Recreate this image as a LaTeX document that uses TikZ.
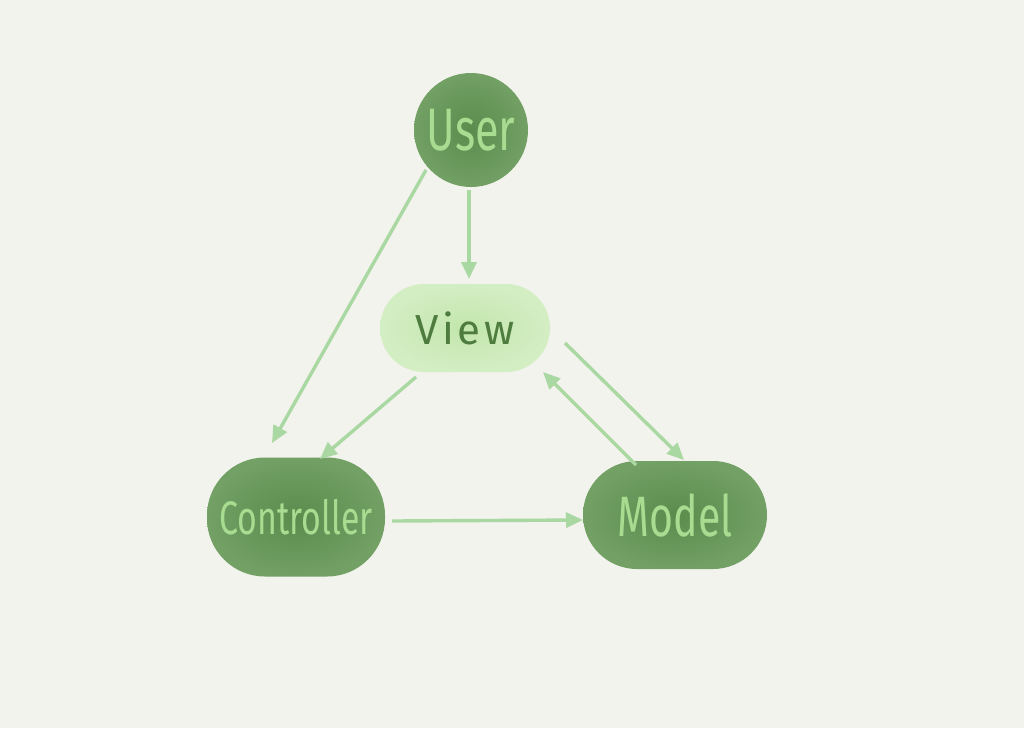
\documentclass[tikz,border=0pt]{standalone}
\usepackage{fontspec}
\newfontfamily\hand[FakeStretch=0.72]{Fira Sans}
\newfontfamily\handwide[LetterSpace=8]{Fira Sans}
\usetikzlibrary{arrows.meta}
\definecolor{bg}{HTML}{F2F3EC}
\definecolor{dkgreen}{HTML}{5B8C4D}
\definecolor{dkedge}{HTML}{72A065}
\definecolor{ltext}{HTML}{A8DC90}
\definecolor{viewfill}{HTML}{C2E6AC}
\definecolor{viewedge}{HTML}{D4EEC4}
\definecolor{viewtext}{HTML}{4E7C3E}
\definecolor{arrowc}{HTML}{AAD8A2}
\begin{document}
\begin{tikzpicture}[x=1pt,y=-1pt,
  darknode/.style={inner color=dkgreen, outer color=dkedge, text=ltext, inner sep=0pt},
  lightnode/.style={inner color=viewfill, outer color=viewedge, text=viewtext, inner sep=0pt},
  conn/.style={draw=arrowc, line width=3.4pt, -{Triangle[length=17pt,width=15pt]}}]
\fill[bg] (0,0) rectangle (1024,728);
\useasboundingbox (0,0) rectangle (1024,728);
\node[darknode, circle, minimum size=114pt, font=\hand\fontsize{60}{60}\selectfont] (user) at (471,130) {User};
\node[lightnode, rectangle, rounded corners=44pt, minimum width=170pt, minimum height=88pt, font=\handwide\fontsize{42}{42}\selectfont] (view) at (465,328) {View};
\node[darknode, rectangle, rounded corners=58pt, minimum width=178pt, minimum height=119pt, font=\hand\fontsize{47}{47}\selectfont] (ctrl) at (296,517) {Controller};
\node[darknode, rectangle, rounded corners=54pt, minimum width=184pt, minimum height=108pt, font=\hand\fontsize{57}{57}\selectfont] (model) at (675,515) {Model};
\coordinate (u1) at (426,170); \coordinate (c1) at (272,443);
\coordinate (u2) at (469,190); \coordinate (v1) at (469,279);
\coordinate (v2) at (416,377); \coordinate (c2) at (320,459);
\coordinate (v3) at (565,343); \coordinate (m1) at (684,460);
\coordinate (m2) at (636,465); \coordinate (v4) at (543,372);
\coordinate (c3) at (392,521); \coordinate (m3) at (583,520);
\draw[conn] (u1) -- (c1);
\draw[conn] (u2) -- (v1);
\draw[conn] (v2) -- (c2);
\draw[conn] (v3) -- (m1);
\draw[conn] (m2) -- (v4);
\draw[conn] (c3) -- (m3);
\end{tikzpicture}
\end{document}
